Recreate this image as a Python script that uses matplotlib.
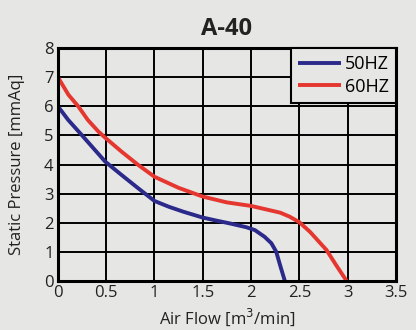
import matplotlib.pyplot as plt

# curve readings (air flow m3/min, static pressure mmAq)
FLOW_50 = [0, 0.107, 0.245, 0.49, 0.66, 0.83, 1.0, 1.15, 1.3, 1.5, 1.65, 1.78, 1.95,
           2.04, 2.14, 2.21, 2.26, 2.30, 2.35]
PRES_50 = [6.0, 5.53, 5.02, 4.1, 3.64, 3.19, 2.75, 2.55, 2.38, 2.18, 2.07, 1.98, 1.85,
           1.75, 1.52, 1.30, 1.01, 0.55, 0.0]
FLOW_60 = [0, 0.11, 0.21, 0.31, 0.42, 0.49, 0.66, 0.83, 1.0, 1.25, 1.5, 1.75, 2.0,
           2.3, 2.4, 2.5, 2.61, 2.78, 2.88, 2.99]
PRES_60 = [7.0, 6.39, 6.0, 5.53, 5.13, 4.92, 4.44, 3.99, 3.58, 3.2, 2.9, 2.7, 2.58,
           2.35, 2.21, 2.02, 1.69, 1.07, 0.55, 0.0]

X_TICKS = [0, 0.5, 1, 1.5, 2, 2.5, 3, 3.5]
X_LABELS = ['0', '0.5', '1', '1.5', '2', '2.5', '3', '3.5']
Y_TICKS = [0, 1, 2, 3, 4, 5, 6, 7, 8]

BG = '#e6e6e4'
TXT = '#222222'
plt.rcParams['font.family'] = ['Open Sans', 'DejaVu Sans']

fig = plt.figure(figsize=(4.16, 3.3), dpi=100, facecolor=BG)
ax = fig.add_axes([0.139, 0.148, 0.813, 0.707], facecolor=BG)

ax.plot(FLOW_50, PRES_50, color='#2b2a8a', lw=2.8, label='50HZ',
        solid_capstyle='butt', solid_joinstyle='round')
ax.plot(FLOW_60, PRES_60, color='#e5372f', lw=2.8, label='60HZ',
        solid_capstyle='butt', solid_joinstyle='round')

ax.set_xlim(0, 3.5)
ax.set_ylim(0, 8)
ax.set_xticks(X_TICKS)
ax.set_xticklabels(X_LABELS)
ax.set_yticks(Y_TICKS)
ax.grid(True, color='black', lw=1.4)
ax.set_axisbelow(True)
for s in ax.spines.values():
    s.set_linewidth(2.2)
ax.tick_params(length=0, labelsize=12, colors=TXT, pad=3)

ax.set_xlabel('Air Flow [m$^3$/min]', fontsize=12, color=TXT, labelpad=4)
ax.set_ylabel('Static Pressure [mmAq]', fontsize=12, color=TXT, labelpad=14)
ax.set_title('A-40', fontsize=17, fontweight='bold', color=TXT, pad=9)

leg = ax.legend(loc='upper right', fontsize=13, handlelength=2.4, borderaxespad=0,
                fancybox=False, framealpha=1, facecolor=BG, edgecolor='black',
                handletextpad=0.2, borderpad=0.4, labelspacing=0.25)
leg.get_frame().set_linewidth(1.5)

plt.savefig('out.png', dpi=100, facecolor=BG)
